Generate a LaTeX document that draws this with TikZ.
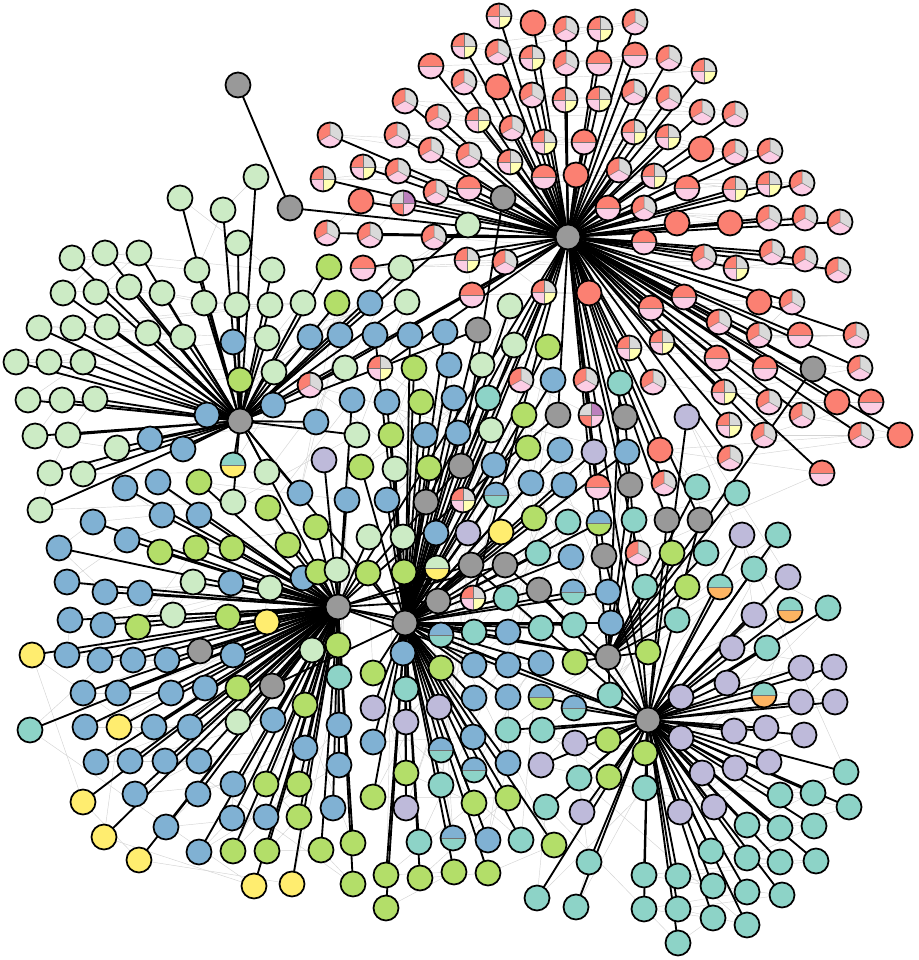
\documentclass[tikz,border=0pt]{standalone}
\definecolor{cTl}{HTML}{8DD3C7}
\definecolor{cLY}{HTML}{FFFFB3}
\definecolor{cLv}{HTML}{BEBADA}
\definecolor{cRd}{HTML}{FB8072}
\definecolor{cBl}{HTML}{80B1D3}
\definecolor{cOr}{HTML}{FDB462}
\definecolor{cGn}{HTML}{B3DE69}
\definecolor{cPk}{HTML}{FCCDE5}
\definecolor{cGy}{HTML}{D9D9D9}
\definecolor{cPu}{HTML}{BC80BD}
\definecolor{cLg}{HTML}{CCEBC5}
\definecolor{cYl}{HTML}{FFED6F}
\definecolor{cHub}{HTML}{999999}
\pgfdeclarelayer{bgg}
\pgfdeclarelayer{bg}
\pgfsetlayers{bgg,bg,main}
\tikzset{
 nd/.style={circle,draw=black,line width=1.75pt,minimum size=25pt,inner sep=0pt,outer sep=0pt},
 pieline/.style={draw=black!55,line width=0.5pt},
 ed/.style={line width=1.85pt,black},
 faint/.style={line width=0.45pt,black!17},
 lg/.style={nd,fill=cLg}, gn/.style={nd,fill=cGn}, bl/.style={nd,fill=cBl},
 tl/.style={nd,fill=cTl}, lv/.style={nd,fill=cLv}, yl/.style={nd,fill=cYl},
 rd/.style={nd,fill=cRd}, gy/.style={nd,fill=cHub},
 half/.style 2 args={nd,fill=#2,path picture={
   \fill[#1] (path picture bounding box.west) rectangle (path picture bounding box.north east);
   \draw[pieline] (path picture bounding box.west) -- (path picture bounding box.east);}},
 RP/.style={half={cRd}{cPk}}, TY/.style={half={cTl}{cYl}}, TO/.style={half={cTl}{cOr}},
 BG/.style={half={cBl}{cGn}}, BT/.style={half={cBl}{cTl}}, LY/.style={half={cLg}{cYl}},
 quad/.style n args={4}{nd,fill=#4,path picture={
   \fill[#1] (path picture bounding box.center) rectangle (path picture bounding box.north west);
   \fill[#2] (path picture bounding box.center) rectangle (path picture bounding box.north east);
   \fill[#3] (path picture bounding box.center) rectangle (path picture bounding box.south west);
   \draw[pieline] (path picture bounding box.north) -- (path picture bounding box.south)
     (path picture bounding box.west) -- (path picture bounding box.east);}},
 RQ/.style={quad={cRd}{cGy}{cPk}{cLY}},
 RPu/.style={quad={cGy}{cPu}{cRd}{cPk}},
 RTh/.style={nd,fill=cPk,path picture={
   \fill[cRd] (path picture bounding box.center) -- +(90:15) arc[start angle=90,end angle=210,radius=15] -- cycle;
   \fill[cGy] (path picture bounding box.center) -- +(-30:15) arc[start angle=-30,end angle=90,radius=15] -- cycle;
   \draw[pieline] (path picture bounding box.center) -- +(90:15)
     (path picture bounding box.center) -- +(210:15)
     (path picture bounding box.center) -- +(-30:15);}},
}
\newcommand\leafset[2]{%
 \def\lst{#2}%
 \foreach \x/\y/\st [count=\i] in \lst {\node[\st] (#1\i) at (\x,{960-\y}) {};}
 \begin{pgfonlayer}{bg}
 \foreach \x/\y/\st [count=\i] in \lst {\draw[ed] (#1\i) -- (#1);}
 \end{pgfonlayer}
 \begin{pgfonlayer}{bgg}
 \foreach \x/\y/\st [count=\i] in \lst {\ifnum\i>2 \pgfmathtruncatemacro\jj{\i-2}\draw[faint] (#1\i) -- (#1\jj);\fi}
 \end{pgfonlayer}}
\begin{document}
\begin{tikzpicture}[x=1pt,y=1pt]
\useasboundingbox (0,0) rectangle (918,960);
\begin{pgfonlayer}{bgg}\fill[white] (0,0) rectangle (918,960);\end{pgfonlayer}
% hubs
\node[gy] (A) at (568,{960-237}) {};
\node[gy] (B) at (240,{960-421}) {};
\node[gy] (C) at (338,{960-607}) {};
\node[gy] (D) at (405,{960-623}) {};
\node[gy] (E) at (648,{960-720}) {};
\node[gy] (F) at (608,{960-657}) {};
% other grey nodes
\foreach \x/\y [count=\i] in {238/85,290/208,503/198,478/330,813/369,558/415,625/417,461/466,426/502,630/485,667/520,700/520,604/556,471/565,505/565,539/590,438/601,200/651,272/686}
  {\node[gy] (g\i) at (\x,{960-\y}) {};}
\begin{pgfonlayer}{bg}
\foreach \p/\q in {g1/g2,g2/A,g3/A,g3/g8,g4/B,g4/D,g5/A,g5/F,g6/A,g6/C,g7/A,g7/E,g8/A,g8/C,g9/A,g9/D,g10/A,g10/F,g11/A,g11/E,g12/A,g12/E,g13/A,g13/E,g14/C,g14/E,g15/C,g15/F,g16/D,g16/E,g17/C,g17/D,g18/C,g19/C,g19/D,A/C,A/D,A/E,A/F,B/C,B/D,C/D,C/E,D/E,D/F,E/F,C/F,A/B}
  {\draw[ed] (\p) -- (\q);}
\end{pgfonlayer}
% hub A leaves (red)
\leafset{A}{499/16/RQ,533/23/rd,566/29/RTh,600/29/RQ,635/22/RTh,
464/46/RQ,498/52/RTh,532/58/RQ,566/63/RTh,599/63/RP,635/55/RP,669/58/RTh,704/71/RQ,
431/66/RP,464/82/RTh,498/87/rd,532/95/RTh,565/100/RQ,599/99/RQ,634/92/RTh,669/98/RTh,702/112/RTh,735/114/RTh,
405/101/RTh,438/117/RTh,478/120/RQ,512/128/RTh,544/142/RQ,584/142/RP,634/132/RQ,668/137/RQ,701/149/rd,735/152/RTh,770/151/RTh,
330/135/RTh,397/135/RTh,431/150/RTh,469/155/RTh,510/162/RQ,544/177/RP,576/175/rd,619/170/RTh,654/176/RQ,687/188/RP,735/189/RQ,769/184/RQ,802/183/RTh,
323/179/RQ,363/167/RQ,398/171/RTh,436/192/RTh,469/188/RP,608/208/RP,644/208/RTh,677/223/rd,730/223/rd,769/218/RTh,805/218/RTh,840/222/RTh,
361/201/rd,403/203/RPu,327/233/RTh,370/235/RTh,434/237/RTh,644/242/RP,704/257/RTh,736/268/RQ,772/252/RTh,805/259/RTh,838/270/RTh,
363/268/RP,467/260/RQ,505/262/RTh,472/295/RP,544/292/RQ,589/293/rd,684/297/RP,651/308/RP,759/302/rd,792/302/RTh,719/322/RTh,
759/335/RTh,800/335/RP,856/335/RTh,629/348/RQ,662/342/RQ,717/358/RP,765/368/RP,860/368/RTh,653/382/RTh,724/392/RQ,769/402/RTh,837/402/rd,871/402/RP,
729/425/RQ,764/435/RTh,802/415/RTh,861/435/RTh,900/435/rd,660/450/rd,730/458/RTh,822/473/RP,664/483/RTh,638/553/RTh,
310/385/RTh,380/368/RQ,463/500/RQ,473/598/RQ,598/487/RP,521/380/RTh,586/380/RTh,591/415/RPu}
% hub B leaves
\leafset{B}{256/177/lg,180/198/lg,223/210/lg,238/243/lg,197/270/lg,272/270/lg,72/258/lg,105/253/lg,139/253/lg,63/293/lg,96/292/lg,129/287/lg,162/293/lg,204/303/lg,237/305/lg,270/305/lg,303/303/lg,
39/328/lg,73/328/lg,107/327/lg,148/333/lg,183/337/lg,267/338/lg,16/362/lg,49/362/lg,83/362/lg,274/372/lg,28/400/lg,62/400/lg,95/399/lg,35/436/lg,68/435/lg,117/448/lg,50/473/lg,83/474/lg,40/510/lg,
267/472/lg,233/502/lg,345/368/lg,357/435/lg,401/268/lg,407/302/lg,468/225/lg,
233/342/bl,207/415/bl,273/405/bl,150/439/bl,183/449/bl,316/422/bl,310/337/bl,340/335/bl,370/303/bl,300/493/bl,
240/380/gn,337/303/gn,329/267/gn,233/465/TY}
% hub C leaves
\leafset{C}{125/488/bl,158/482/bl,162/515/bl,199/515/bl,93/522/bl,127/540/bl,59/548/bl,67/582/bl,105/592/bl,140/593/bl,231/583/bl,303/578/bl,70/620/bl,103/625/bl,
67/655/bl,100/660/bl,133/660/bl,167/660/bl,233/655/bl,83/693/bl,118/693/bl,171/693/bl,205/688/bl,85/727/bl,154/727/bl,190/727/bl,273/720/bl,
96/762/bl,130/761/bl,165/761/bl,199/761/bl,305/748/bl,135/794/bl,198/794/bl,233/784/bl,166/827/bl,232/818/bl,266/817/bl,199/852/bl,339/725/bl,339/765/bl,333/808/bl,347/500/bl,352/400/bl,
199/482/gn,268/508/gn,316/527/gn,288/545/gn,160/552/gn,196/548/gn,232/548/gn,138/627/gn,228/617/gn,318/572/gn,238/688/gn,305/705/gn,266/784/gn,299/784/gn,299/817/gn,233/851/gn,267/851/gn,338/645/gn,321/850/gn,353/843/gn,353/884/gn,
267/622/yl,32/655/yl,119/727/yl,83/802/yl,104/837/yl,139/860/yl,254/886/yl,292/884/yl,
30/730/tl,339/677/tl,193/582/lg,270/588/lg,173/615/lg,238/722/lg,312/650/lg,337/570/lg,369/537/lg,324/460/lv}
% hub D leaves
\leafset{D}{375/335/bl,410/335/bl,445/332/bl,449/365/bl,387/402/bl,454/398/bl,425/435/bl,458/433/bl,494/465/bl,387/500/bl,436/533/bl,403/653/bl,474/665/bl,508/665/bl,541/663/bl,474/698/bl,508/697/bl,473/737/bl,508/763/bl,373/742/bl,488/840/bl,508/632/bl,553/380/bl,560/450/bl,531/483/bl,564/485/bl,571/557/bl,608/592/bl,611/623/bl,627/452/bl,
414/368/gn,421/402/gn,391/435/gn,361/467/gn,429/468/gn,548/347/gn,524/415/gn,528/448/gn,534/518/gn,368/573/gn,404/572/gn,373/673/gn,441/668/gn,406/773/gn,373/797/gn,474/803/gn,508/798/gn,386/875/gn,420/878/gn,454/872/gn,488/873/gn,386/908/gn,554/845/gn,
395/469/lg,403/537/lg,514/345/lg,482/365/lg,491/430/lg,510/306/lg,
406/689/tl,441/785/tl,419/842/tl,488/398/tl,568/522/tl,538/553/tl,506/598/tl,474/632/tl,541/628/tl,574/625/tl,521/840/tl,
468/533/lv,373/708/lv,439/707/lv,406/722/lv,406/808/lv,594/452/lv,501/532/yl,
496/495/BT,441/635/BT,441/750/BT,474/770/BT,453/838/BT,573/592/BT,437/568/LY,599/523/BG}
% hub E leaves
\leafset{E}{732/648/lv,801/668/lv,834/667/lv,727/683/lv,801/702/lv,835/702/lv,681/697/lv,734/731/lv,766/728/lv,804/735/lv,681/738/lv,702/773/lv,735/768/lv,769/762/lv,680/812/lv,714/807/lv,575/743/lv,541/765/lv,582/812/lv,742/535/lv,788/577/lv,754/615/lv,687/417/lv,
767/648/tl,846/772/tl,645/788/tl,780/795/tl,813/793/tl,849/807/tl,747/825/tl,780/828/tl,814/826/tl,711/851/tl,747/858/tl,780/862/tl,816/861/tl,644/875/tl,678/876/tl,713/886/tl,747/892/tl,782/895/tl,644/909/tl,678/909/tl,713/918/tl,747/925/tl,678/943/tl,
579/778/tl,546/807/tl,589/862/tl,537/898/tl,576/907/tl,828/608/tl,778/535/tl,754/569/tl,508/730/tl,542/730/tl,
645/753/gn,609/777/gn,608/740/gn,764/695/TO,720/587/TO,790/610/TO,541/697/BG,574/708/BT}
% hub F leaves
\leafset{F}{645/587/tl,677/620/tl,706/553/tl,634/520/tl,697/487/tl,737/493/tl,620/383/tl,610/695/tl,687/587/gn,672/553/gn,648/652/gn,575/662/gn}
\end{tikzpicture}
\end{document}
